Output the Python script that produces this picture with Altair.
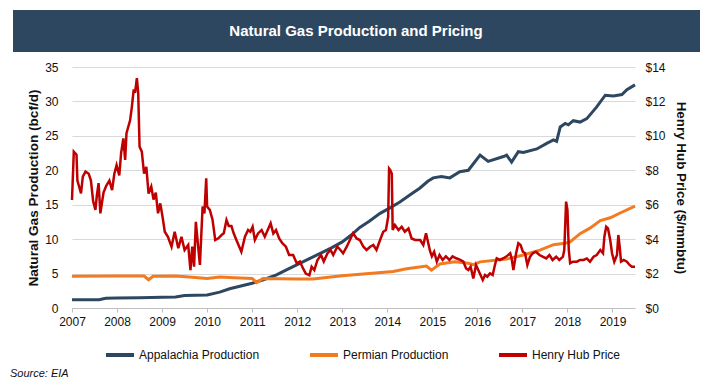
import altair as alt
import pandas as pd

TITLE = "Natural Gas Production and Pricing"
SOURCE = "Source: EIA"
LEFT_TITLE = "Natural Gas Production (bcf/d)"
RIGHT_TITLE = "Henry Hub Price ($/mmbtu)"

series_names = ["Appalachia Production", "Permian Production", "Henry Hub Price"]
series_colors = ["#2E4760", "#F47A20", "#C00000"]
year_ticks = list(range(2007, 2020))
left_ticks = [0, 5, 10, 15, 20, 25, 30, 35]
right_ticks = [0, 2, 4, 6, 8, 10, 12, 14]

app_years = [2007.0, 2007.6, 2007.75, 2008.0, 2008.5, 2009.0, 2009.3, 2009.5, 2010.0, 2010.28,
             2010.5, 2010.75, 2011.0, 2011.25, 2011.54, 2011.75, 2012.0, 2012.25, 2012.5, 2012.75,
             2013.0, 2013.2, 2013.39, 2013.6, 2013.84, 2014.05, 2014.28, 2014.5, 2014.72, 2014.9,
             2015.02, 2015.2, 2015.39, 2015.61, 2015.8, 2016.06, 2016.24, 2016.58, 2016.65, 2016.76,
             2016.91, 2017.02, 2017.32, 2017.54, 2017.69, 2017.76, 2017.84, 2017.95, 2018.02, 2018.13,
             2018.28, 2018.43, 2018.65, 2018.84, 2019.02, 2019.21, 2019.32, 2019.5]
app_vals = [1.2, 1.2, 1.4, 1.45, 1.5, 1.55, 1.6, 1.8, 1.9, 2.3,
            2.8, 3.2, 3.6, 4.1, 4.8, 5.5, 6.3, 7.1, 7.9, 8.7,
            9.6, 10.6, 11.7, 12.6, 13.75, 14.5, 15.4, 16.4, 17.4, 18.4,
            18.9, 19.1, 18.9, 19.8, 20.0, 22.2, 21.3, 22.0, 22.2, 21.2,
            22.7, 22.6, 23.1, 23.9, 24.4, 24.2, 26.3, 26.8, 26.6, 27.2,
            27.0, 27.5, 29.2, 30.9, 30.8, 31.0, 31.7, 32.4]

perm_years = [2007.0, 2008.0, 2008.6, 2008.7, 2008.8, 2009.3, 2009.6, 2010.0, 2010.28, 2010.6,
              2011.0, 2011.1, 2011.24, 2012.0, 2012.35, 2013.0, 2013.6, 2014.13, 2014.43, 2014.87,
              2014.98, 2015.17, 2015.5, 2015.8, 2015.91, 2016.06, 2016.65, 2017.02, 2017.39, 2017.69,
              2017.95, 2018.06, 2018.28, 2018.5, 2018.73, 2018.95, 2019.17, 2019.5]
perm_vals = [4.6, 4.65, 4.65, 4.1, 4.6, 4.65, 4.5, 4.3, 4.5, 4.4,
             4.3, 3.7, 4.3, 4.2, 4.2, 4.7, 5.0, 5.3, 5.7, 6.1,
             5.5, 6.4, 6.7, 6.5, 6.3, 6.7, 7.1, 7.7, 8.4, 9.2,
             9.4, 9.6, 10.8, 11.6, 12.7, 13.1, 13.8, 14.8]

hh_years = [2007.0, 2007.04, 2007.1, 2007.12, 2007.2, 2007.24, 2007.3, 2007.37, 2007.42, 2007.47,
            2007.52, 2007.55, 2007.59, 2007.63, 2007.67, 2007.7, 2007.76, 2007.83, 2007.89, 2007.94,
            2007.99, 2008.05, 2008.09, 2008.14, 2008.18, 2008.21, 2008.29, 2008.33, 2008.37, 2008.4,
            2008.44, 2008.47, 2008.5, 2008.55, 2008.6, 2008.65, 2008.7, 2008.76, 2008.81, 2008.86,
            2008.91, 2008.96, 2009.01, 2009.06, 2009.13, 2009.21, 2009.28, 2009.36, 2009.43, 2009.5,
            2009.58, 2009.63, 2009.67, 2009.71, 2009.75, 2009.79, 2009.84, 2009.9, 2009.94, 2009.98,
            2010.0, 2010.06, 2010.12, 2010.18, 2010.25, 2010.32, 2010.37, 2010.43, 2010.48, 2010.54,
            2010.59, 2010.65, 2010.76, 2010.84, 2010.91, 2010.96, 2011.01, 2011.06, 2011.13, 2011.21,
            2011.28, 2011.36, 2011.41, 2011.47, 2011.53, 2011.6, 2011.67, 2011.75, 2011.82, 2011.91,
            2011.99, 2012.06, 2012.13, 2012.19, 2012.27, 2012.32, 2012.38, 2012.45, 2012.53, 2012.59,
            2012.67, 2012.74, 2012.8, 2012.89, 2012.95, 2013.02, 2013.1, 2013.17, 2013.24, 2013.32,
            2013.39, 2013.47, 2013.54, 2013.62, 2013.69, 2013.76, 2013.84, 2013.91, 2013.97, 2014.02,
            2014.04, 2014.07, 2014.1, 2014.12, 2014.17, 2014.25, 2014.32, 2014.39, 2014.47, 2014.54,
            2014.62, 2014.73, 2014.8, 2014.86, 2014.91, 2014.95, 2014.99, 2015.04, 2015.1, 2015.16,
            2015.23, 2015.3, 2015.38, 2015.45, 2015.53, 2015.62, 2015.69, 2015.75, 2015.8, 2015.85,
            2015.91, 2015.97, 2016.02, 2016.07, 2016.12, 2016.17, 2016.22, 2016.28, 2016.34, 2016.39,
            2016.43, 2016.5, 2016.58, 2016.65, 2016.73, 2016.76, 2016.8, 2016.86, 2016.91, 2016.96,
            2017.01, 2017.06, 2017.11, 2017.17, 2017.23, 2017.3, 2017.38, 2017.45, 2017.53, 2017.6,
            2017.67, 2017.75, 2017.82, 2017.9, 2017.93, 2017.97, 2018.0, 2018.03, 2018.06, 2018.12,
            2018.21, 2018.28, 2018.36, 2018.43, 2018.5, 2018.58, 2018.65, 2018.73, 2018.79, 2018.82,
            2018.86, 2018.9, 2018.95, 2018.99, 2019.04, 2019.1, 2019.13, 2019.16, 2019.19, 2019.25,
            2019.32, 2019.38, 2019.43, 2019.5]
hh_prices = [6.27, 9.08, 8.9, 7.4, 6.66, 7.63, 7.92, 7.8, 7.4, 6.2,
             5.7, 6.5, 7.25, 5.5, 6.2, 6.7, 7.1, 7.4, 6.85, 7.8,
             8.3, 7.7, 9.0, 9.85, 8.6, 10.15, 10.9, 11.7, 12.7, 12.5,
             13.35, 12.5, 9.37, 9.08, 7.8, 8.2, 6.65, 7.05, 6.3, 6.7,
             5.5, 6.08, 5.3, 4.43, 4.14, 3.56, 4.43, 3.47, 4.14, 3.37,
             3.66, 2.2, 3.56, 2.4, 5.01, 3.85, 2.5, 5.9, 5.5, 7.53,
             5.9, 5.7, 5.13, 3.95, 4.05, 4.24, 4.34, 5.11, 4.76, 4.76,
             4.34, 3.95, 3.27, 4.14, 4.53, 4.43, 4.72, 3.95, 4.33, 4.53,
             4.14, 4.62, 4.92, 4.33, 4.53, 4.04, 3.76, 3.56, 3.08, 3.08,
             2.6, 2.7, 2.3, 2.0, 1.9, 2.4, 2.2, 2.79, 3.08, 2.7,
             3.17, 3.37, 3.08, 3.56, 3.4, 3.18, 3.56, 3.95, 4.34, 4.04,
             3.95, 3.56, 3.37, 3.56, 3.66, 3.37, 3.95, 4.43, 4.53, 5.3,
             8.1, 8.0, 7.8, 4.53, 4.82, 4.53, 4.72, 4.43, 4.62, 4.04,
             3.95, 3.95, 3.66, 4.34, 3.76, 3.3, 3.0, 3.27, 2.69, 3.08,
             2.79, 3.0, 2.79, 3.0, 2.89, 2.79, 2.69, 2.3, 2.21, 2.4,
             1.72, 2.5, 2.21, 1.92, 1.63, 1.92, 1.82, 2.01, 1.92, 2.5,
             2.89, 2.79, 2.89, 3.0, 3.18, 2.89, 2.21, 3.18, 3.76, 3.66,
             3.27, 3.18, 2.5, 2.98, 3.18, 3.27, 3.08, 2.98, 2.88, 3.08,
             2.79, 2.98, 2.79, 2.98, 3.37, 6.18, 5.7, 3.37, 2.6, 2.69,
             2.69, 2.79, 2.79, 2.88, 2.69, 2.98, 3.08, 3.37, 3.18, 4.14,
             4.72, 4.62, 3.95, 3.18, 2.69, 3.08, 4.24, 3.56, 2.69, 2.79,
             2.69, 2.5, 2.4, 2.4]

FONT = "Liberation Sans"
BANNER = "#2E4760"
GRID = "#D9D9D9"
AXISLINE = "#BFBFBF"
TEXT = "#111111"

prod = pd.DataFrame({
    "year": app_years + perm_years,
    "value": app_vals + perm_vals,
    "series": [series_names[0]] * len(app_years) + [series_names[1]] * len(perm_years),
})
price = pd.DataFrame({"year": hh_years, "price": hh_prices, "series": series_names[2]})

color = alt.Color(
    "series:N",
    scale=alt.Scale(domain=series_names, range=series_colors),
    legend=alt.Legend(
        title=None, orient="none", legendX=32, legendY=272, direction="horizontal",
        symbolType="stroke", symbolSize=784, symbolStrokeWidth=4,
        labelFont=FONT, labelFontSize=12, labelColor=TEXT, labelOffset=3,
        columnPadding=42, symbolOffset=0,
    ),
)

x_enc = alt.X(
    "year:Q",
    scale=alt.Scale(domain=[2007, 2019.5], nice=False, zero=False),
    axis=alt.Axis(values=year_ticks, format="d", title=None, grid=False,
                  domainColor=AXISLINE, tickColor=AXISLINE, tickSize=4,
                  labelFlush=False, labelOverlap=False,
                  labelPadding=4, labelFont=FONT, labelFontSize=12, labelColor=TEXT),
)

prod_chart = alt.Chart(prod).mark_line(strokeWidth=3).encode(
    x=x_enc,
    y=alt.Y("value:Q", scale=alt.Scale(domain=[0, 35], nice=False),
            axis=alt.Axis(values=left_ticks, title=LEFT_TITLE, grid=True, gridColor=GRID,
                          domain=False, ticks=False, labelPadding=14,
                          labelFont=FONT, labelFontSize=12, labelColor=TEXT,
                          titleFont=FONT, titleFontSize=13.6, titleFontWeight="bold",
                          titleColor=TEXT, titlePadding=4)),
    color=color,
)

price_chart = alt.Chart(price).mark_line(strokeWidth=2.5).encode(
    x=x_enc,
    y=alt.Y("price:Q", scale=alt.Scale(domain=[0, 14], nice=False),
            axis=alt.Axis(orient="right", values=right_ticks, labelExpr="'$' + datum.value",
                          title=RIGHT_TITLE, titleAngle=90, grid=False, domain=False,
                          ticks=False, labelPadding=10, labelFont=FONT, labelFontSize=12,
                          labelColor=TEXT, titleFont=FONT, titleFontSize=13.4,
                          titleFontWeight="bold", titleColor=TEXT, titlePadding=8)),
    color=color,
)

one = alt.Data(values=[{}])
banner = alt.Chart(one).mark_rect(color=BANNER).encode(
    x=alt.value(-59), x2=alt.value(628), y=alt.value(-57), y2=alt.value(-15)
)
title_text = alt.Chart(one).mark_text(
    text=TITLE, font=FONT, fontSize=15, fontWeight="bold", color="white",
    align="center", baseline="middle"
).encode(x=alt.value(284), y=alt.value(-36))
source_text = alt.Chart(one).mark_text(
    text=SOURCE, font=FONT, fontSize=11, fontStyle="italic", color=TEXT,
    align="left", baseline="middle"
).encode(x=alt.value(-62), y=alt.value(307))

chart = alt.layer(banner, title_text, prod_chart, price_chart, source_text).resolve_scale(
    y="independent"
).properties(
    width=563, height=241,
    autosize=alt.AutoSizeParams(type="none"),
    padding={"left": 64, "top": 59, "right": 69, "bottom": 72},
).configure_view(stroke=None)

chart.save("out.html", embed_options={"renderer": "svg", "actions": False})
